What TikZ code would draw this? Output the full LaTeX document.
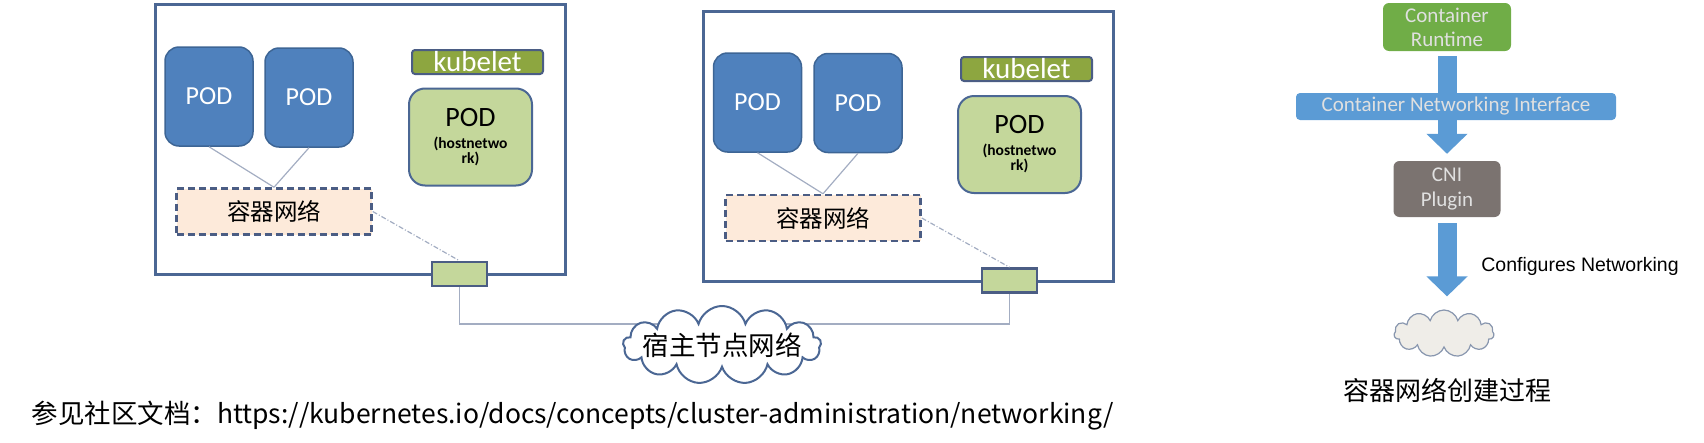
\documentclass[tikz,border=0pt]{standalone}
\usepackage{fontspec}
\setmainfont{Carlito}
\newfontfamily\cjk{Noto Sans CJK SC}
\newfontfamily\arialfont{Liberation Sans}
\usetikzlibrary{arrows.meta,shapes.symbols,positioning}

\definecolor{hostline}{HTML}{4B6794}
\definecolor{podblue}{HTML}{4F81BD}
\definecolor{podedge}{HTML}{3D6595}
\definecolor{podgreen}{HTML}{C4D79B}
\definecolor{kubeolive}{HTML}{8DA640}
\definecolor{cnpeach}{HTML}{FDEADA}
\definecolor{cnedge}{HTML}{4B5D84}
\definecolor{linkgrey}{HTML}{A3ADC2}
\definecolor{rtgreen}{HTML}{70AD47}
\definecolor{cniblue}{HTML}{5B9BD5}
\definecolor{plugrey}{HTML}{7B7370}
\definecolor{cloudfill}{HTML}{EFEDE8}
\definecolor{cloudedge}{HTML}{8896AE}

\newcommand{\hnfont}{\fontsize{15.5}{13}\bfseries\selectfont}
\newcommand{\podfont}{\fontsize{28}{28}\mdseries\selectfont}

\tikzset{
  host/.style={draw=hostline,line width=3,minimum width=410,minimum height=270},
  bluepod/.style={draw=podedge,line width=1.5,fill=podblue,rounded corners=14,
    minimum width=88,minimum height=99,text=white,font=\fontsize{26}{28}\selectfont},
  hostpod/.style={draw=hostline,line width=2,fill=podgreen,rounded corners=16,
    minimum width=123,minimum height=97,align=center,font=\hnfont},
  kubebar/.style={draw=cnedge,line width=2,fill=kubeolive,rounded corners=3,
    minimum width=131,minimum height=24,inner sep=0,text=white,font=\fontsize{29}{29}\selectfont},
  cnbox/.style={draw=cnedge,line width=2.5,dashed,dash pattern=on 7 off 4,fill=cnpeach,
    minimum width=195,minimum height=46,font=\cjk\fontsize{23.5}{23.5}\selectfont},
  port/.style={draw=cnedge,line width=2.5,fill=podgreen,minimum width=55,minimum height=24},
  podlink/.style={draw=linkgrey,line width=1.2},
  portlink/.style={draw=linkgrey,line width=1.2,dash pattern=on 5 off 2 on 1 off 2},
  netlink/.style={draw=linkgrey,line width=1.2},
  hostcloud/.style={cloud,cloud puffs=13,cloud ignores aspect,draw=hostline,line width=2,fill=white,
    minimum width=198,minimum height=78,inner sep=0},
  stepnode/.style={rounded corners=6,align=center,inner sep=0,text=white!88!black},
  bigarrow/.style={draw=cniblue,line width=19,-{Triangle[length=20pt,width=40pt]}},
}

\begin{document}
\begin{tikzpicture}[x=1pt,y=-1pt]
\useasboundingbox (0,0) rectangle (1704,442);

% left host
\node[host] (lhost) at (360,139) {};
\node[bluepod] (lpod1) at (209,96.5) {POD};
\node[bluepod] (lpod2) at (309,97.5) {POD};
\node[kubebar] (lkube) at (477.5,62) {kubelet};
\node[hostpod] (lhpod) at (470.5,137) {{\podfont POD}\\[9pt](hostnetwo\\rk)};
\node[cnbox] (lcn) at (274,211.5) {容器网络};
\node[port] (lport) at (459.5,274) {};
\draw[podlink] (lpod1.south) -- (lcn.north);
\draw[podlink] (lpod2.south) -- (lcn.north);
\draw[portlink] (lcn.east) -- (lport.north);

% right host
\node[host] (rhost) at (908.5,146) {};
\node[bluepod] (rpod1) at (757.5,102.5) {POD};
\node[bluepod] (rpod2) at (858,103) {POD};
\node[kubebar] (rkube) at (1026.5,69) {kubelet};
\node[hostpod] (rhpod) at (1019.5,144.5) {{\podfont POD}\\[9pt](hostnetwo\\rk)};
\node[cnbox] (rcn) at (823,218) {容器网络};
\node[port] (rport) at (1009.5,280.5) {};
\draw[podlink] (rpod1.south) -- (rcn.north);
\draw[podlink] (rpod2.south) -- (rcn.north);
\draw[portlink] (rcn.east) -- (rport.north);

% host network
\coordinate (netmid) at (722,324);
\draw[netlink] (lport.south) |- (netmid) -| (rport.south);
\node[hostcloud] (hostnet) at (722,345) {};
\node[font=\cjk\fontsize{26.5}{26.5}\selectfont] (hostnetlbl) at (hostnet.center) {宿主节点网络};

\node[anchor=west,font=\cjk\fontsize{26.5}{26.5}\selectfont] (docref) at (28,416)
  {参见社区文档：https://kubernetes.io/docs/concepts/cluster-administration/networking/};

% CNI flow
\node[stepnode,fill=rtgreen,minimum width=128,minimum height=48,
  font=\fontsize{21}{24}\selectfont] (rt) at (1447,27) {Container\\Runtime};
\node[stepnode,fill=plugrey,minimum width=107,minimum height=56,
  font=\fontsize{21}{25}\selectfont] (plug) at (1447,189) {CNI\\Plugin};
\node[cloud,cloud puffs=11,aspect=2.1,draw=cloudedge,line width=1.2,fill=cloudfill,
  minimum width=100,minimum height=47,inner sep=0] (cncloud) at (1444,333.5) {};
\draw[bigarrow] ([yshift=-5]rt.south) -- ([yshift=7]plug.north);
\draw[bigarrow] ([yshift=-6]plug.south) -- ([yshift=13]plug.south |- cncloud.north);
\node[stepnode,rounded corners=4,fill=cniblue,minimum width=320,minimum height=27,
  font=\fontsize{21}{21}\selectfont] (cni) at (1456,106.5) {Container Networking Interface};
\node[font=\arialfont\fontsize{19.5}{19.5}\selectfont] (cfg) at (1580,266) {Configures Networking};
\node[font=\cjk\fontsize{26}{26}\selectfont] (ttl) at (1447.5,390) {容器网络创建过程};
\end{tikzpicture}
\end{document}
